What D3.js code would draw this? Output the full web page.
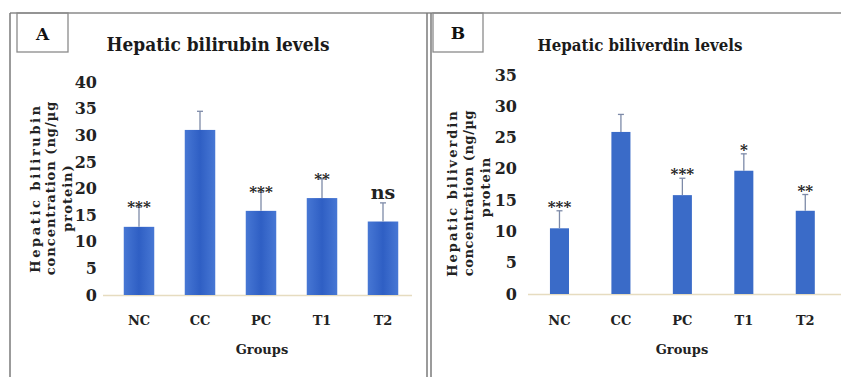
<!DOCTYPE html>
<html><head><meta charset="utf-8">
<script src="https://cdn.jsdelivr.net/npm/d3@7"></script>
<style>body{margin:0;background:#fff}svg{display:block}</style>
</head><body>
<svg id="c" width="841" height="377"></svg>
<script>
const categories = ["NC","CC","PC","T1","T2"];
const bilirubinMean = [12.8, 31.0, 15.8, 18.2, 13.8];
const bilirubinErr  = [3.7, 3.5, 3.5, 3.6, 3.5];
const bilirubinSig  = ["***", "", "***", "**", "ns"];
const biliverdinMean = [10.5, 25.9, 15.8, 19.7, 13.3];
const biliverdinErr  = [2.8, 2.8, 2.7, 2.7, 2.6];
const biliverdinSig  = ["***", "", "***", "*", "**"];
const ticksA = [0,5,10,15,20,25,30,35,40];
const ticksB = [0,5,10,15,20,25,30,35];

const svg = d3.select("#c");
const serif = "'DejaVu Serif', serif";

const defs = svg.append("defs");
const gr = defs.append("linearGradient").attr("id","gA").attr("x1","0").attr("x2","1").attr("y1","0").attr("y2","0");
gr.append("stop").attr("offset","0").attr("stop-color","#4777d4");
gr.append("stop").attr("offset","0.5").attr("stop-color","#2f5fc4");
gr.append("stop").attr("offset","1").attr("stop-color","#4777d4");

// frames
svg.append("line").attr("x1",10).attr("x2",841).attr("y1",13).attr("y2",13).attr("stroke","#8a8a8a").attr("stroke-width",1.5);
[10,427,431].forEach(x=>svg.append("line").attr("x1",x).attr("x2",x).attr("y1",13).attr("y2",377).attr("stroke","#7a7a7a").attr("stroke-width",1.5));
svg.append("rect").attr("x",17).attr("y",13).attr("width",51).attr("height",39).attr("fill","none").attr("stroke","#8a8a8a").attr("stroke-width",1.3);
svg.append("rect").attr("x",433).attr("y",13).attr("width",50).attr("height",39).attr("fill","none").attr("stroke","#8a8a8a").attr("stroke-width",1.3);
svg.append("text").attr("x",42.5).attr("y",40).attr("text-anchor","middle").attr("font-family",serif).attr("font-weight","bold").attr("font-size",17).attr("fill","#111").text("A");
svg.append("text").attr("x",458).attr("y",39).attr("text-anchor","middle").attr("font-family",serif).attr("font-weight","bold").attr("font-size",17).attr("fill","#111").text("B");

function panel(o){
  const g = svg.append("g");
  const y = d3.scaleLinear().domain([0,o.max]).range([o.y0,o.y1]);
  const x = d3.scaleBand().domain(categories).range([o.xs,o.xe]).paddingInner(o.pad).paddingOuter(o.pad/2);
  // title
  g.append("text").attr("x",o.tx).attr("y",51).attr("text-anchor","middle").attr("font-family",serif).attr("font-weight","bold").attr("font-size",o.tfs).attr("fill","#1a1a1a")
    .attr("textLength",o.tw).attr("lengthAdjust","spacingAndGlyphs").text(o.title);
  // y axis
  const ay = g.append("g").attr("transform",`translate(${o.axX},0)`).call(d3.axisLeft(y).tickValues(o.ticks).tickSize(0).tickPadding(0));
  ay.select(".domain").remove();
  ay.selectAll("text").attr("font-family",serif).attr("font-weight","bold").attr("font-size",16).attr("fill","#222");
  // baseline
  g.append("line").attr("x1",o.blx1).attr("x2",o.blx2).attr("y1",y(0)+0.5).attr("y2",y(0)+0.5).attr("stroke","#e6dcc0").attr("stroke-width",1.5);
  // bars
  g.selectAll("rect.bar").data(categories).join("rect")
    .attr("x",d=>x(d)).attr("width",x.bandwidth())
    .attr("y",(d,i)=>y(o.mean[i])).attr("height",(d,i)=>y(0)-y(o.mean[i]))
    .attr("fill",o.fill);
  // error bars
  categories.forEach((d,i)=>{
    const cx = x(d)+x.bandwidth()/2, top = y(o.mean[i]+o.err[i]);
    g.append("line").attr("x1",cx).attr("x2",cx).attr("y1",y(o.mean[i])).attr("y2",top).attr("stroke","#7d8aa8").attr("stroke-width",1.3);
    g.append("line").attr("x1",cx-3).attr("x2",cx+3).attr("y1",top).attr("y2",top).attr("stroke","#7d8aa8").attr("stroke-width",1.3);
    const s = o.sig[i];
    if(s){
      const ns = s==="ns";
      g.append("text").attr("x",cx).attr("y",ns? top-4 : top+ o.sOff).attr("text-anchor","middle").attr("font-family",serif).attr("font-weight","bold")
        .attr("font-size",ns?19:15).attr("fill","#222").text(s);
    }
  });
  // x labels
  g.selectAll("text.xl").data(categories).join("text").attr("class","xl")
    .attr("x",d=>x(d)+x.bandwidth()/2).attr("y",325).attr("text-anchor","middle")
    .attr("font-family",serif).attr("font-weight","bold").attr("font-size",13).attr("fill","#222").text(d=>d);
  g.append("text").attr("x",o.gx).attr("y",354).attr("text-anchor","middle").attr("font-family",serif).attr("font-weight","bold").attr("font-size",13).attr("fill","#222").text("Groups");
  // y label
  o.ylab.forEach((t,k)=>{
    g.append("text").attr("transform",`translate(${o.ylx[k]},${o.yly[k]}) rotate(-90)`).attr("text-anchor","middle")
      .attr("font-family",serif).attr("font-weight","bold").attr("font-size",13).attr("letter-spacing",o.yls[k]).attr("fill","#222")
      .text(t);
  });
}

panel({title:"Hepatic bilirubin levels", tx:218, tw:223, tfs:18,
  max:40, y0:295, y1:82, ticks:ticksA, axX:97, xs:108.5, xe:413.5, pad:0.5,
  mean:bilirubinMean, err:bilirubinErr, sig:bilirubinSig, sOff:5, fill:"url(#gA)",
  blx1:103, blx2:412, gx:262,
  ylab:["Hepatic bilirubin","concentration (ng/µg","protein)"], ylx:[40,55,72], yly:[188,188,198], yls:[2.6,1,1]});
panel({title:"Hepatic biliverdin levels", tx:640, tw:205, tfs:16,
  max:35, y0:294, y1:75, ticks:ticksB, axX:517, xs:528.75, xe:836, pad:0.69,
  mean:biliverdinMean, err:biliverdinErr, sig:biliverdinSig, sOff:1, fill:"#3a6bc8",
  blx1:528, blx2:841, gx:682,
  ylab:["Hepatic biliverdin","concentration (ng/µg","protein"], ylx:[457,473,490], yly:[193,193,187], yls:[2,0.6,1]});
</script>
</body></html>
